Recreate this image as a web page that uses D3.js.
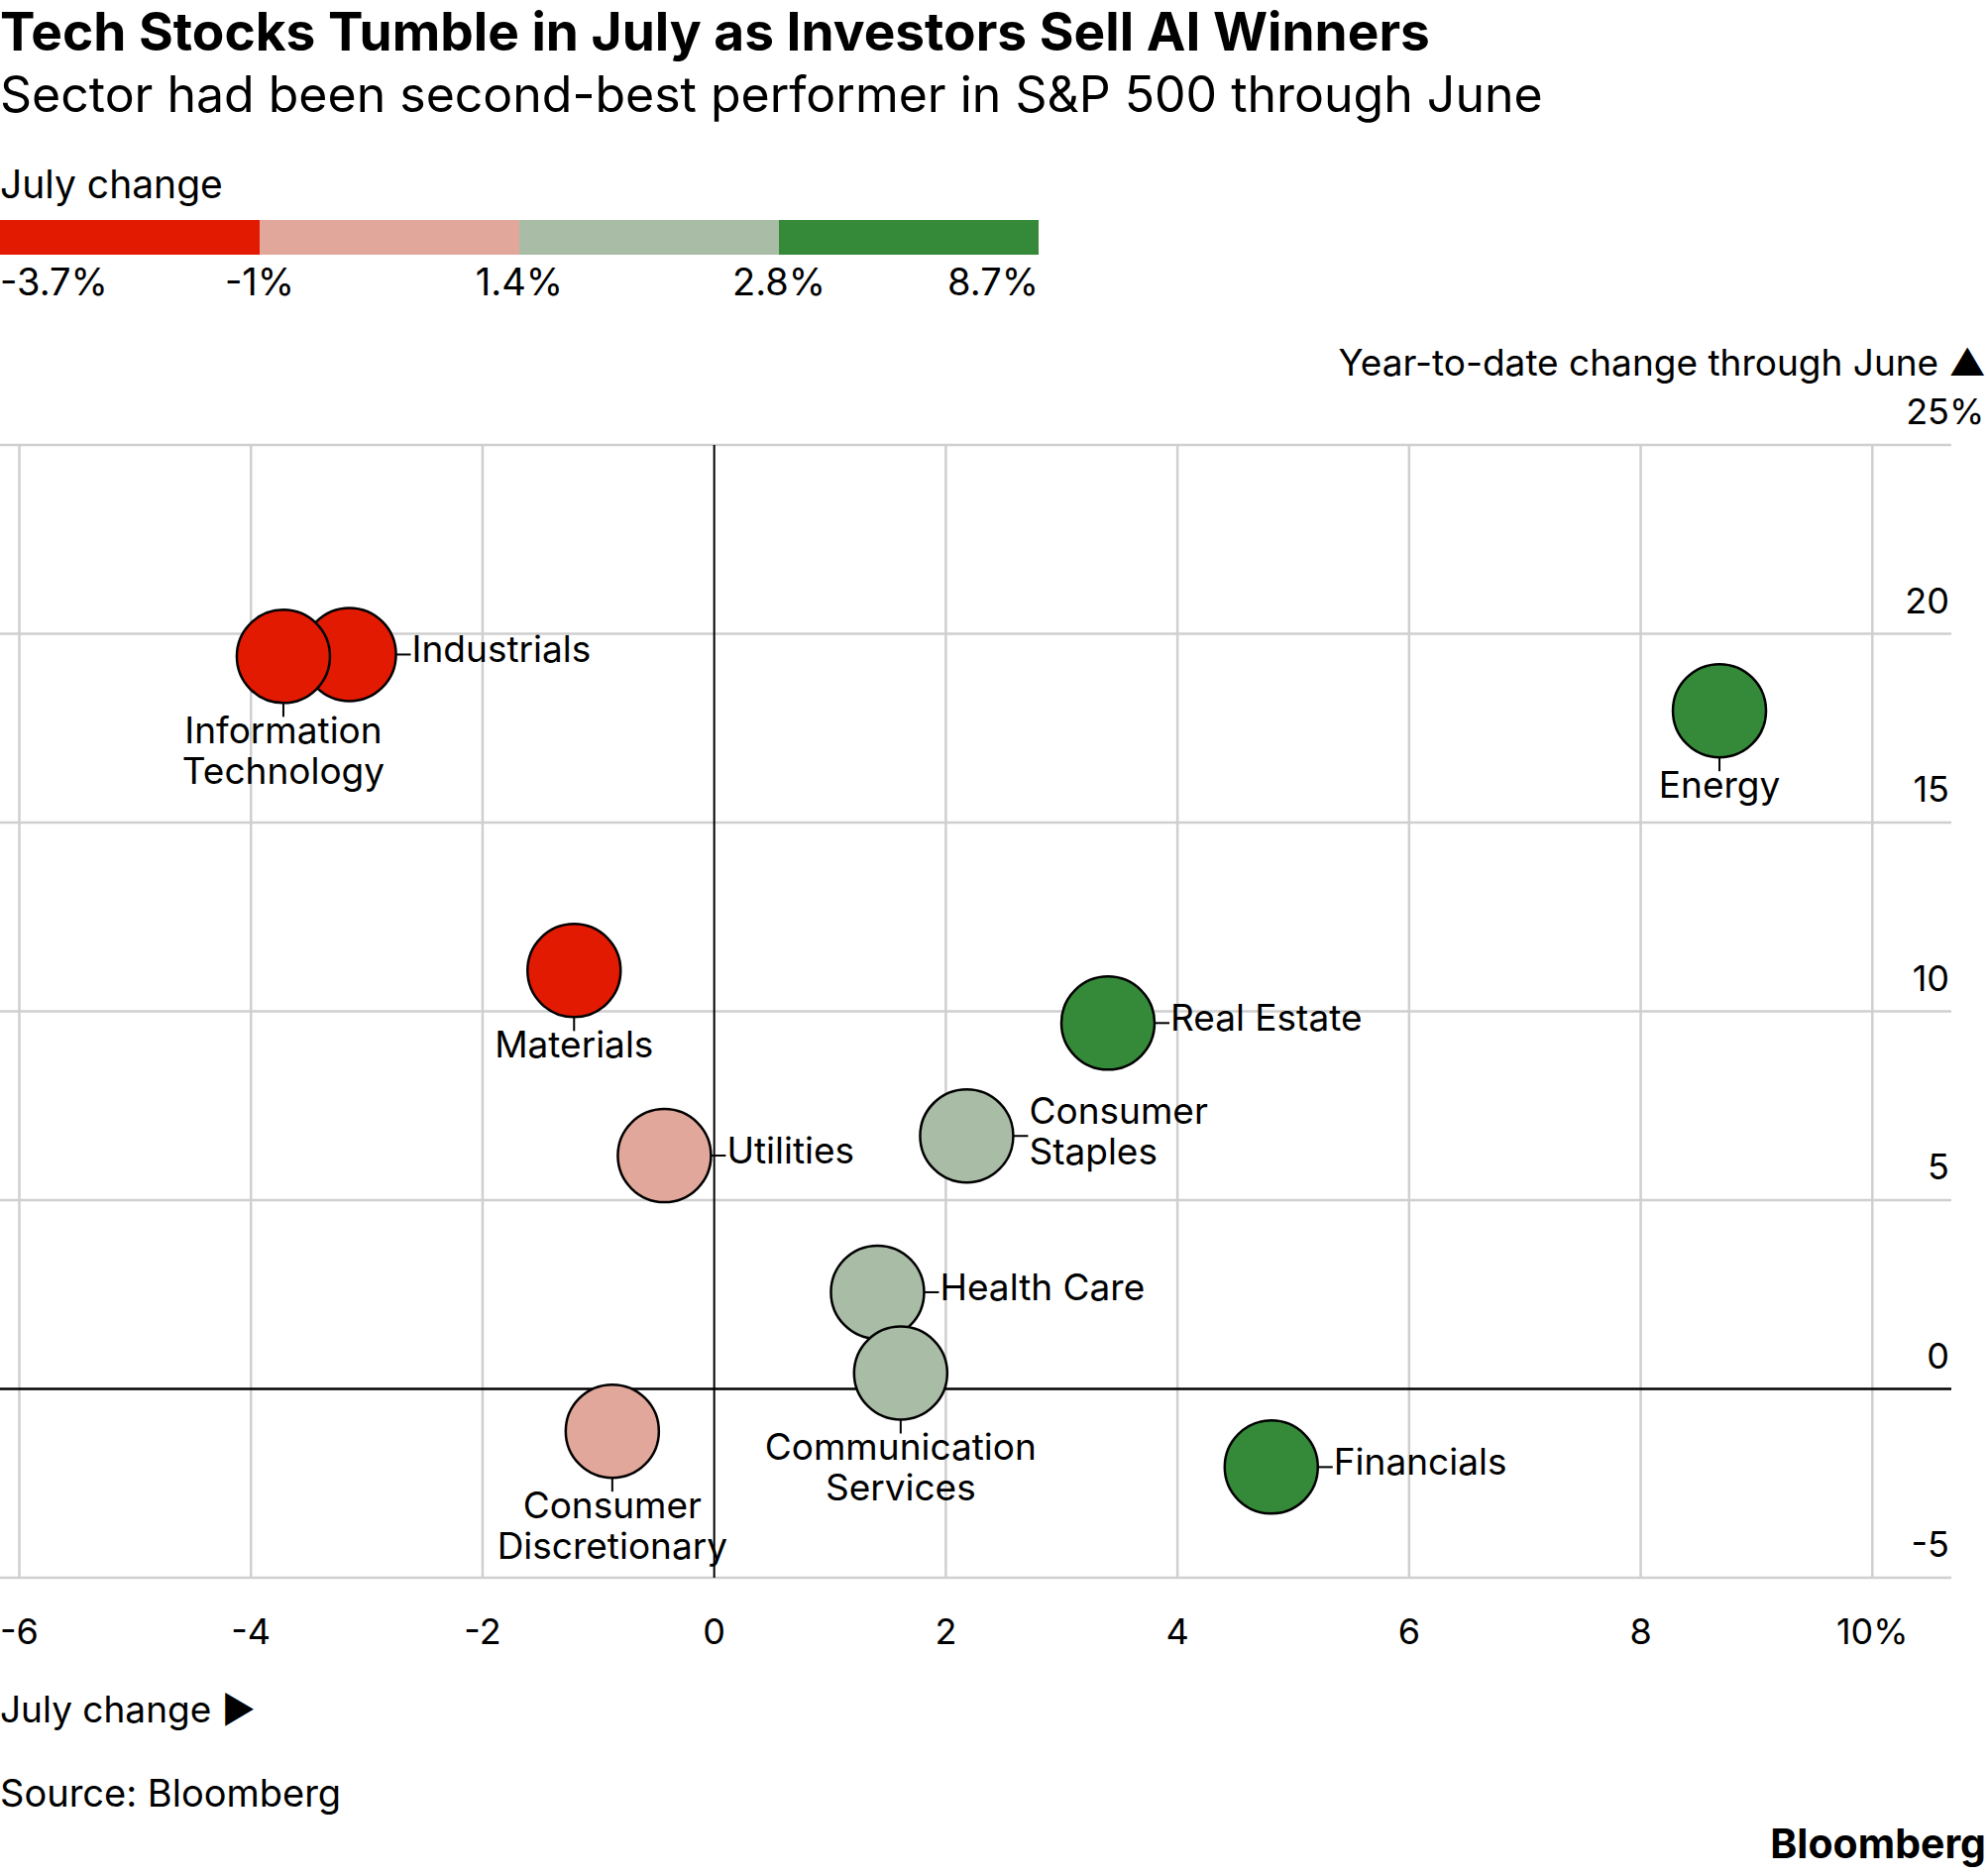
<!DOCTYPE html>
<html>
<head>
<meta charset="utf-8">
<script src="https://cdn.jsdelivr.net/npm/d3@7"></script>
<style>
  html, body { margin: 0; padding: 0; background: #fff; }
  svg { display: block; }
  text { font-family: Inter, "Liberation Sans", sans-serif; fill: #000; }
</style>
</head>
<body>
<svg id="chart" width="2006" height="1893"></svg>
<script>
// Data
const sectors = [
  "Industrials", "Information Technology", "Materials", "Energy", "Real Estate",
  "Consumer Staples", "Utilities", "Health Care", "Communication Services",
  "Consumer Discretionary", "Financials",
];
const julyChange = [-3.15, -3.72, -1.21, 8.68, 3.4, 2.18, -0.43, 1.41, 1.61, -0.88, 4.81];
const ytdChange = [19.45, 19.4, 11.08, 17.96, 9.69, 6.7, 6.18, 2.56, 0.42, -1.12, -2.07];
const labelLines = [
  ["Industrials"], ["Information", "Technology"], ["Materials"], ["Energy"], ["Real Estate"],
  ["Consumer", "Staples"], ["Utilities"], ["Health Care"], ["Communication", "Services"],
  ["Consumer", "Discretionary"], ["Financials"],
];
const labelSide = ["right", "below", "below", "below", "right", "right", "right", "right", "below", "below", "right"];

// Legend buckets
const legendBreaks = [-3.7, -1, 1.4, 2.8, 8.7];
const legendTickLabels = ["-3.7%", "-1%", "1.4%", "2.8%", "8.7%"];
const legendColors = ["#e31a02", "#e2a79b", "#a9bda6", "#358a39"];

// Axes
const xTicks = [-6, -4, -2, 0, 2, 4, 6, 8, 10];
const yTicks = [-5, 0, 5, 10, 15, 20, 25];

const CONFIG = {
  plotLeft: 0,
  plotRight: 1969,
  font: { label: 37, tick: 36 },
  radius: 47,
  grid: "#cfcfcf",
};

const svg = d3.select("#chart");

const x = d3.scaleLinear().domain([-6, 10]).range([19.5, 1889.3]);
const y = d3.scaleLinear().domain([-5, 25]).range([1592, 449]);
const color = d3.scaleThreshold().domain(legendBreaks.slice(1, 4)).range(legendColors);

// fit a text element to a target width by adjusting font-size
function fitWidth(sel, target) {
  const w = sel.node().getComputedTextLength();
  const fs = parseFloat(sel.attr("font-size"));
  sel.attr("font-size", (fs * target) / w);
}

// Title and subtitle
const title = svg.append("text").attr("x", 0).attr("y", 51)
  .attr("font-size", 52).attr("font-weight", 700)
  .text("Tech Stocks Tumble in July as Investors Sell AI Winners");
fitWidth(title, 1443);

const subtitle = svg.append("text").attr("x", 0).attr("y", 113)
  .attr("font-size", 46)
  .text("Sector had been second-best performer in S&P 500 through June");
fitWidth(subtitle, 1557);

// Legend
const legend = svg.append("g");
legend.append("text").attr("x", 0).attr("y", 200).attr("font-size", 39).text("July change");

const lx = d3.scaleLinear().domain([0, legendColors.length]).range([0, 1048]);
legend.selectAll("rect").data(legendColors).join("rect")
  .attr("x", (d, i) => lx(i))
  .attr("y", 222)
  .attr("width", (d, i) => lx(i + 1) - lx(i))
  .attr("height", 35)
  .attr("fill", (d) => d);

legend.selectAll("text.lt").data(legendTickLabels).join("text")
  .attr("class", "lt")
  .attr("x", (d, i) => lx(i))
  .attr("y", 298)
  .attr("font-size", CONFIG.font.tick + 2)
  .attr("text-anchor", (d, i) => (i === 0 ? "start" : i === legendTickLabels.length - 1 ? "end" : "middle"))
  .text((d) => d);

// Gridlines
const grid = svg.append("g");
grid.selectAll("line.h").data(yTicks.filter((t) => t !== 0)).join("line")
  .attr("class", "h")
  .attr("x1", CONFIG.plotLeft).attr("x2", CONFIG.plotRight)
  .attr("y1", (d) => y(d)).attr("y2", (d) => y(d))
  .attr("stroke", CONFIG.grid).attr("stroke-width", 2.5);

grid.selectAll("line.v").data(xTicks.filter((t) => t !== 0)).join("line")
  .attr("class", "v")
  .attr("x1", (d) => x(d)).attr("x2", (d) => x(d))
  .attr("y1", y(25)).attr("y2", y(-5))
  .attr("stroke", CONFIG.grid).attr("stroke-width", 2.5);

// Zero lines
svg.append("line")
  .attr("x1", x(0)).attr("x2", x(0)).attr("y1", y(25)).attr("y2", y(-5))
  .attr("stroke", "#000").attr("stroke-width", 2);
svg.append("line")
  .attr("x1", CONFIG.plotLeft).attr("x2", CONFIG.plotRight).attr("y1", y(0)).attr("y2", y(0))
  .attr("stroke", "#000").attr("stroke-width", 2.5);

// Y tick labels (right side, above the gridline)
const yLab = svg.append("g");
yTicks.forEach((t) => {
  yLab.append("text")
    .attr("x", 1967).attr("y", y(t) - 21)
    .attr("font-size", CONFIG.font.tick).attr("text-anchor", "end")
    .text(t);
  if (t === 25) {
    yLab.append("text")
      .attr("x", 1967).attr("y", y(t) - 21)
      .attr("font-size", CONFIG.font.tick)
      .text("%");
  }
});

svg.append("text")
  .attr("x", 2004).attr("y", 379)
  .attr("font-size", CONFIG.font.label).attr("text-anchor", "end")
  .text("Year-to-date change through June ▲");

// X tick labels
svg.append("g").selectAll("text").data(xTicks).join("text")
  .attr("x", (d) => x(d)).attr("y", 1659)
  .attr("font-size", CONFIG.font.tick).attr("text-anchor", "middle")
  .text((d) => (d === 10 ? "10%" : d));

svg.append("text").attr("x", 0).attr("y", 1738)
  .attr("font-size", CONFIG.font.label).text("July change ▶");

// Points
const points = sectors.map((s, i) => ({
  name: s, xv: julyChange[i], yv: ytdChange[i], lines: labelLines[i], side: labelSide[i],
}));

const r = CONFIG.radius;
const marks = svg.append("g");

// leader lines
marks.selectAll("line.lead").data(points).join("line")
  .attr("class", "lead")
  .attr("x1", (d) => (d.side === "right" ? x(d.xv) + r : x(d.xv)))
  .attr("x2", (d) => (d.side === "right" ? x(d.xv) + r + 15 : x(d.xv)))
  .attr("y1", (d) => (d.side === "right" ? y(d.yv) : y(d.yv) + r))
  .attr("y2", (d) => (d.side === "right" ? y(d.yv) : y(d.yv) + r + 14))
  .attr("stroke", "#000").attr("stroke-width", 2);

marks.selectAll("circle").data(points).join("circle")
  .attr("cx", (d) => x(d.xv))
  .attr("cy", (d) => y(d.yv))
  .attr("r", r)
  .attr("fill", (d) => color(d.xv))
  .attr("stroke", "#000")
  .attr("stroke-width", 2.5);

// labels
points.forEach((d) => {
  const cx = x(d.xv), cy = y(d.yv);
  const t = marks.append("text").attr("font-size", CONFIG.font.label);
  if (d.side === "right") {
    const y0 = d.lines.length === 1 ? cy + 8 : cy - 12;
    d.lines.forEach((ln, k) => {
      t.append("tspan").attr("x", cx + r + 16).attr("y", y0 + k * 41).text(ln);
    });
  } else {
    t.attr("text-anchor", "middle");
    d.lines.forEach((ln, k) => {
      t.append("tspan").attr("x", cx).attr("y", cy + 88 + k * 41).text(ln);
    });
  }
});

// Footer
svg.append("text").attr("x", 0).attr("y", 1823)
  .attr("font-size", 38).text("Source: Bloomberg");

svg.append("text").attr("x", 2004).attr("y", 1875)
  .attr("font-size", 41).attr("font-weight", 700).attr("text-anchor", "end")
  .text("Bloomberg");
</script>
</body>
</html>
